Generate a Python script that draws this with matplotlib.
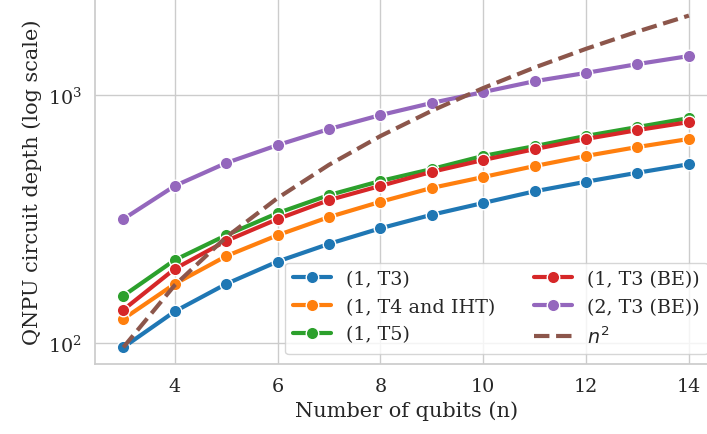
import matplotlib
matplotlib.use("Agg")
import matplotlib.pyplot as plt
import seaborn as sns

sns.set_theme(context="notebook", style="whitegrid", font="serif", font_scale=1.25)
plt.rcParams["font.family"] = ["DejaVu Serif"]

qubits = [3, 4, 5, 6, 7, 8, 9, 10, 11, 12, 13, 14]
t3 = [96, 134, 173, 213, 251, 290, 329, 367, 409, 447, 486, 526]
t4_iht = [125, 173, 224, 272, 322, 371, 422, 467, 517, 568, 617, 665]
t5 = [155, 216, 272, 334, 395, 450, 503, 568, 622, 684, 743, 807]
t3_be = [136, 199, 258, 316, 377, 430, 490, 547, 605, 665, 722, 778]
t3_be_2 = [316, 430, 532, 628, 729, 830, 929, 1028, 1137, 1228, 1333, 1436]
n_sq = [96, 171, 267, 384, 523, 683, 864, 1067, 1291, 1536, 1803, 2091]

series = [
    ("(1, T3)", t3, "#1f77b4"),
    ("(1, T4 and IHT)", t4_iht, "#ff7f0e"),
    ("(1, T5)", t5, "#2ca02c"),
    ("(1, T3 (BE))", t3_be, "#d62728"),
    ("(2, T3 (BE))", t3_be_2, "#9467bd"),
]

fig = plt.figure(figsize=(7.07, 4.35), dpi=100)
ax = fig.add_axes([0.1344, 0.161, 0.88, 0.839])

for label, vals, color in series:
    ax.plot(qubits, vals, marker="o", color=color, lw=3, markersize=9,
            markeredgecolor="white", markeredgewidth=1, label=label)
ax.plot(qubits, n_sq, ls="--", color="#8c564b", lw=3, label="$n^2$")

ax.set_yscale("log")
ax.set_xticks([4, 6, 8, 10, 12, 14])
ax.set_xlabel("Number of qubits (n)", fontsize=15)
ax.set_ylabel("QNPU circuit depth (log scale)", fontsize=15)
ax.tick_params(labelsize=13.75)
ax.legend(loc="lower right", ncol=2, fontsize=13.75)

fig.savefig("out.png", dpi=100)
